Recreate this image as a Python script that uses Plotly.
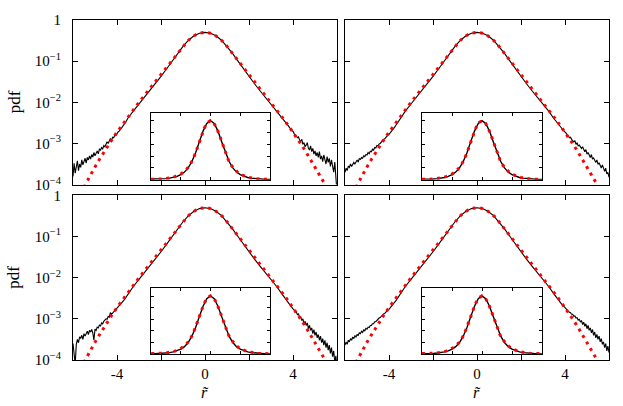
import numpy as np
import plotly.graph_objects as go

# ---------------- data (log10 of pdf values) ----------------
x_fit = np.round(np.arange(-30, 31) * 0.2, 2)
fit_log10 = [-4.540, -4.340, -4.140, -3.945, -3.755, -3.570, -3.390, -3.215, -3.045, -2.880,
             -2.726, -2.576, -2.428, -2.284, -2.142, -2.002, -1.865, -1.728, -1.592, -1.456,
             -1.320, -1.184, -1.048, -0.912, -0.776, -0.640, -0.517, -0.422, -0.354, -0.314,
             -0.300,
             -0.314, -0.354, -0.422, -0.517, -0.640, -0.776, -0.912, -1.048, -1.184, -1.320,
             -1.456, -1.592, -1.728, -1.865, -2.002, -2.142, -2.284, -2.428, -2.576, -2.726,
             -2.880, -3.045, -3.215, -3.390, -3.570, -3.755, -3.945, -4.140, -4.340, -4.540]

x_tail_left = np.round(np.linspace(-6.0, -3.5, 51), 2)
x_core = np.round(np.linspace(-3.25, 3.25, 27), 2)
x_tail_right = np.round(np.linspace(3.5, 6.0, 51), 2)

core_log10 = [-2.208, -2.042, -1.881, -1.720, -1.550, -1.370, -1.190, -1.000, -0.812, -0.640,
              -0.491, -0.385, -0.321, -0.300, -0.321, -0.385, -0.491, -0.640, -0.812, -1.000,
              -1.190, -1.370, -1.550, -1.720, -1.881, -2.042, -2.208]

tl_left = [-3.80, -3.48, -3.72, -3.55, -3.42, -3.66, -3.50, -3.58, -3.40, -3.52,
           -3.45, -3.36, -3.48, -3.34, -3.40, -3.30, -3.38, -3.27, -3.33, -3.22,
           -3.30, -3.24, -3.18, -3.25, -3.14, -3.16, -3.10, -3.13, -3.05, -3.08,
           -3.02, -2.96, -3.00, -2.92, -2.88, -2.93, -2.85, -2.86, -2.80, -2.81,
           -2.75, -2.72, -2.70, -2.65, -2.63, -2.59, -2.56, -2.52, -2.48, -2.43, -2.38]
tl_right = [-2.38, -2.42, -2.45, -2.48, -2.51, -2.55, -2.58, -2.62, -2.64, -2.69,
            -2.70, -2.76, -2.78, -2.82, -2.86, -2.84, -2.92, -2.95, -2.90, -3.02,
            -2.98, -3.08, -3.04, -2.98, -3.12, -3.16, -3.06, -3.20, -3.12, -3.26,
            -3.18, -3.30, -3.22, -3.34, -3.20, -3.38, -3.30, -3.44, -3.28, -3.40,
            -3.50, -3.32, -3.46, -3.36, -3.56, -3.40, -3.52, -3.70, -3.45, -3.95, -4.20]

tr_left = [-3.70, -3.60, -3.66, -3.55, -3.58, -3.50, -3.56, -3.52, -3.46, -3.50,
           -3.44, -3.40, -3.45, -3.37, -3.39, -3.34, -3.36, -3.30, -3.32, -3.27,
           -3.28, -3.22, -3.25, -3.19, -3.20, -3.14, -3.16, -3.10, -3.11, -3.05,
           -3.06, -3.01, -3.00, -2.96, -2.95, -2.90, -2.89, -2.85, -2.84, -2.80,
           -2.78, -2.75, -2.72, -2.68, -2.65, -2.61, -2.57, -2.53, -2.49, -2.44, -2.40]
tr_right = [-2.40, -2.43, -2.47, -2.50, -2.53, -2.57, -2.60, -2.63, -2.67, -2.69,
            -2.73, -2.75, -2.79, -2.81, -2.86, -2.85, -2.90, -2.92, -2.96, -2.93,
            -3.02, -2.99, -3.06, -3.04, -3.10, -3.12, -3.08, -3.17, -3.20, -3.15,
            -3.26, -3.22, -3.30, -3.34, -3.27, -3.38, -3.35, -3.42, -3.46, -3.40,
            -3.51, -3.47, -3.55, -3.60, -3.52, -3.64, -3.68, -3.60, -3.74, -3.70, -3.82]

bl_left = [-3.60, -3.90, -4.10, -3.62, -3.50, -3.58, -3.44, -3.47, -3.40, -3.50,
           -3.36, -3.42, -3.33, -3.30, -3.38, -3.28, -3.32, -3.26, -3.34, -3.52,
           -3.25, -3.28, -3.20, -3.22, -3.15, -3.17, -3.10, -3.12, -3.06, -3.04,
           -3.00, -3.01, -2.94, -2.96, -2.85, -2.89, -2.86, -2.83, -2.80, -2.79,
           -2.75, -2.73, -2.69, -2.66, -2.63, -2.59, -2.56, -2.52, -2.48, -2.44, -2.40]
bl_right = [-2.40, -2.43, -2.47, -2.50, -2.54, -2.58, -2.61, -2.65, -2.68, -2.72,
            -2.76, -2.78, -2.84, -2.83, -2.90, -2.88, -2.97, -2.95, -3.04, -3.00,
            -3.12, -3.06, -3.16, -3.10, -3.24, -3.16, -3.28, -3.22, -3.36, -3.26,
            -3.40, -3.32, -3.46, -3.38, -3.52, -3.42, -3.58, -3.48, -3.64, -3.52,
            -3.70, -3.58, -3.76, -3.64, -3.84, -3.70, -3.92, -3.78, -4.05, -3.90, -4.20]

br_left = [-3.64, -3.56, -3.62, -3.52, -3.56, -3.48, -3.52, -3.44, -3.48, -3.41,
           -3.44, -3.38, -3.40, -3.34, -3.36, -3.30, -3.33, -3.27, -3.29, -3.23,
           -3.25, -3.20, -3.21, -3.16, -3.16, -3.12, -3.12, -3.07, -3.07, -3.03,
           -3.02, -2.98, -2.97, -2.93, -2.92, -2.88, -2.87, -2.83, -2.82, -2.78,
           -2.77, -2.73, -2.71, -2.67, -2.64, -2.60, -2.57, -2.53, -2.49, -2.45, -2.40]
br_right = [-2.40, -2.43, -2.47, -2.50, -2.54, -2.57, -2.61, -2.64, -2.68, -2.70,
            -2.74, -2.76, -2.79, -2.81, -2.84, -2.85, -2.89, -2.89, -2.94, -2.93,
            -2.98, -2.97, -3.03, -3.01, -3.08, -3.04, -3.14, -3.08, -3.18, -3.12,
            -3.24, -3.16, -3.28, -3.22, -3.34, -3.26, -3.40, -3.32, -3.46, -3.38,
            -3.50, -3.42, -3.56, -3.48, -3.62, -3.56, -3.70, -3.60, -3.78, -3.66, -3.82]

y_tickvals = [1e-4, 1e-3, 1e-2, 1e-1, 1]
y_ticktext = ["10<sup>\u22124</sup>", "10<sup>\u22123</sup>", "10<sup>\u22122</sup>",
              "10<sup>\u22121</sup>", "1"]
x_labelvals = [-4, 0, 4]
x_labeltext = ["-4", "0", "4"]
x_minorvals = [-2, 2]
inset_xticks = [-2, 0, 2]
inset_yticks = [0.1, 0.2, 0.3, 0.4, 0.5]

# ---------------- layout geometry (page pixels) ----------------
W, H = 623, 406
L, R, T, B = 73, 14, 13, 46
PW, PH = W - L - R, H - T - B


def dom_x(a, b):
    return [(a - L) / PW, (b - L) / PW]


def dom_y(a, b):
    return [(H - B - b) / PH, (H - B - a) / PH]


panels = [  # (main box, inset box, tails, show x labels, show y labels)
    ((73, 337, 13, 181), (151, 270, 108, 176), (tl_left, tl_right), False, True),
    ((345, 609, 13, 181), (422, 542, 108, 176), (tr_left, tr_right), False, False),
    ((73, 337, 192, 360), (151, 270, 287, 354), (bl_left, bl_right), True, True),
    ((345, 609, 192, 360), (422, 542, 287, 354), (br_left, br_right), True, False),
]

FONT = "Liberation Serif"
x_black = np.concatenate([x_tail_left, x_core, x_tail_right])
fit_pdf = 10 ** np.array(fit_log10)
red_dash = "3px,4.5px"

fig = go.Figure()
layout = dict(
    width=W, height=H, margin=dict(l=L, r=R, t=T, b=B),
    paper_bgcolor="white", plot_bgcolor="white", showlegend=False,
    font=dict(family=FONT, color="black", size=15),
)
annotations = []


def axkey(a, n):
    return (a + "axis") if n == 1 else f"{a}axis{n}"


for i, (mbox, ibox, (lt, rt), showx, showy) in enumerate(panels):
    k = i + 1
    ki = k + 4
    black_pdf = 10 ** np.array(list(lt) + list(core_log10) + list(rt))
    xm = "x" if k == 1 else f"x{k}"
    ym = "y" if k == 1 else f"y{k}"
    xi, yi = f"x{ki}", f"y{ki}"

    fig.add_trace(go.Scatter(x=x_black, y=black_pdf, xaxis=xm, yaxis=ym, mode="lines",
                             line=dict(color="black", width=1.1), hoverinfo="skip"))
    fig.add_trace(go.Scatter(x=x_fit, y=fit_pdf, xaxis=xm, yaxis=ym, mode="lines",
                             line=dict(color="#ff0000", width=3, dash=red_dash), hoverinfo="skip"))
    fig.add_trace(go.Scatter(x=x_black, y=black_pdf, xaxis=xi, yaxis=yi, mode="lines",
                             line=dict(color="black", width=1.4), hoverinfo="skip"))
    fig.add_trace(go.Scatter(x=x_fit, y=fit_pdf, xaxis=xi, yaxis=yi, mode="lines",
                             line=dict(color="#ff0000", width=3, dash=red_dash), hoverinfo="skip"))

    layout[axkey("x", k)] = dict(
        domain=dom_x(mbox[0], mbox[1]), anchor=ym, range=[-6, 6],
        tickmode="array", tickvals=x_labelvals, ticktext=x_labeltext,
        showticklabels=showx, ticks="inside", ticklen=5, tickwidth=1, tickcolor="black",
        minor=dict(tickmode="array", tickvals=x_minorvals, ticks="inside", ticklen=5,
                   tickwidth=1, tickcolor="black", showgrid=False),
        showline=True, linecolor="black", linewidth=1, mirror="ticks",
        showgrid=False, zeroline=False, tickfont=dict(size=15, family=FONT),
        ticklabelstandoff=0,
    )
    layout[axkey("y", k)] = dict(
        domain=dom_y(mbox[2], mbox[3]), anchor=xm, type="log", range=[-4, 0],
        tickmode="array", tickvals=y_tickvals, ticktext=y_ticktext,
        showticklabels=showy, ticks="inside", ticklen=5, tickwidth=1, tickcolor="black",
        showline=True, linecolor="black", linewidth=1, mirror="ticks",
        showgrid=False, zeroline=False, tickfont=dict(size=15, family=FONT),
        ticklabelstandoff=8,
    )
    layout[f"xaxis{ki}"] = dict(
        domain=dom_x(ibox[0], ibox[1]), anchor=yi, range=[-4, 4],
        tickmode="array", tickvals=inset_xticks, showticklabels=False,
        ticks="inside", ticklen=3, tickwidth=1, tickcolor="black",
        showline=True, linecolor="black", linewidth=1, mirror="ticks",
        showgrid=False, zeroline=False,
    )
    layout[f"yaxis{ki}"] = dict(
        domain=dom_y(ibox[2], ibox[3]), anchor=xi, range=[0, 0.565],
        tickmode="array", tickvals=inset_yticks, showticklabels=False,
        ticks="inside", ticklen=3, tickwidth=1, tickcolor="black",
        showline=True, linecolor="black", linewidth=1, mirror="ticks",
        showgrid=False, zeroline=False,
    )

    cy = (H - B - (mbox[2] + mbox[3]) / 2) / PH
    if showy:
        annotations.append(dict(text="pdf", xref="paper", yref="paper",
                                x=(14 - L) / PW, y=cy, textangle=-90, showarrow=False,
                                xanchor="center", yanchor="middle",
                                font=dict(size=17, family=FONT)))
    if showx:
        xc = (((mbox[0] + mbox[1]) / 2) - L) / PW
        annotations.append(dict(text="<i>r\u0303</i>", xref="paper", yref="paper",
                                x=xc, y=(H - B - 393) / PH, showarrow=False,
                                xanchor="center", yanchor="middle",
                                font=dict(size=16, family=FONT)))

layout["annotations"] = annotations
fig.update_layout(**layout)
# the page's default 8px body margin would shift the figure; remove it
fig.write_html("out.html", config={"displayModeBar": False},
               post_script="document.body.style.margin='0px';")
